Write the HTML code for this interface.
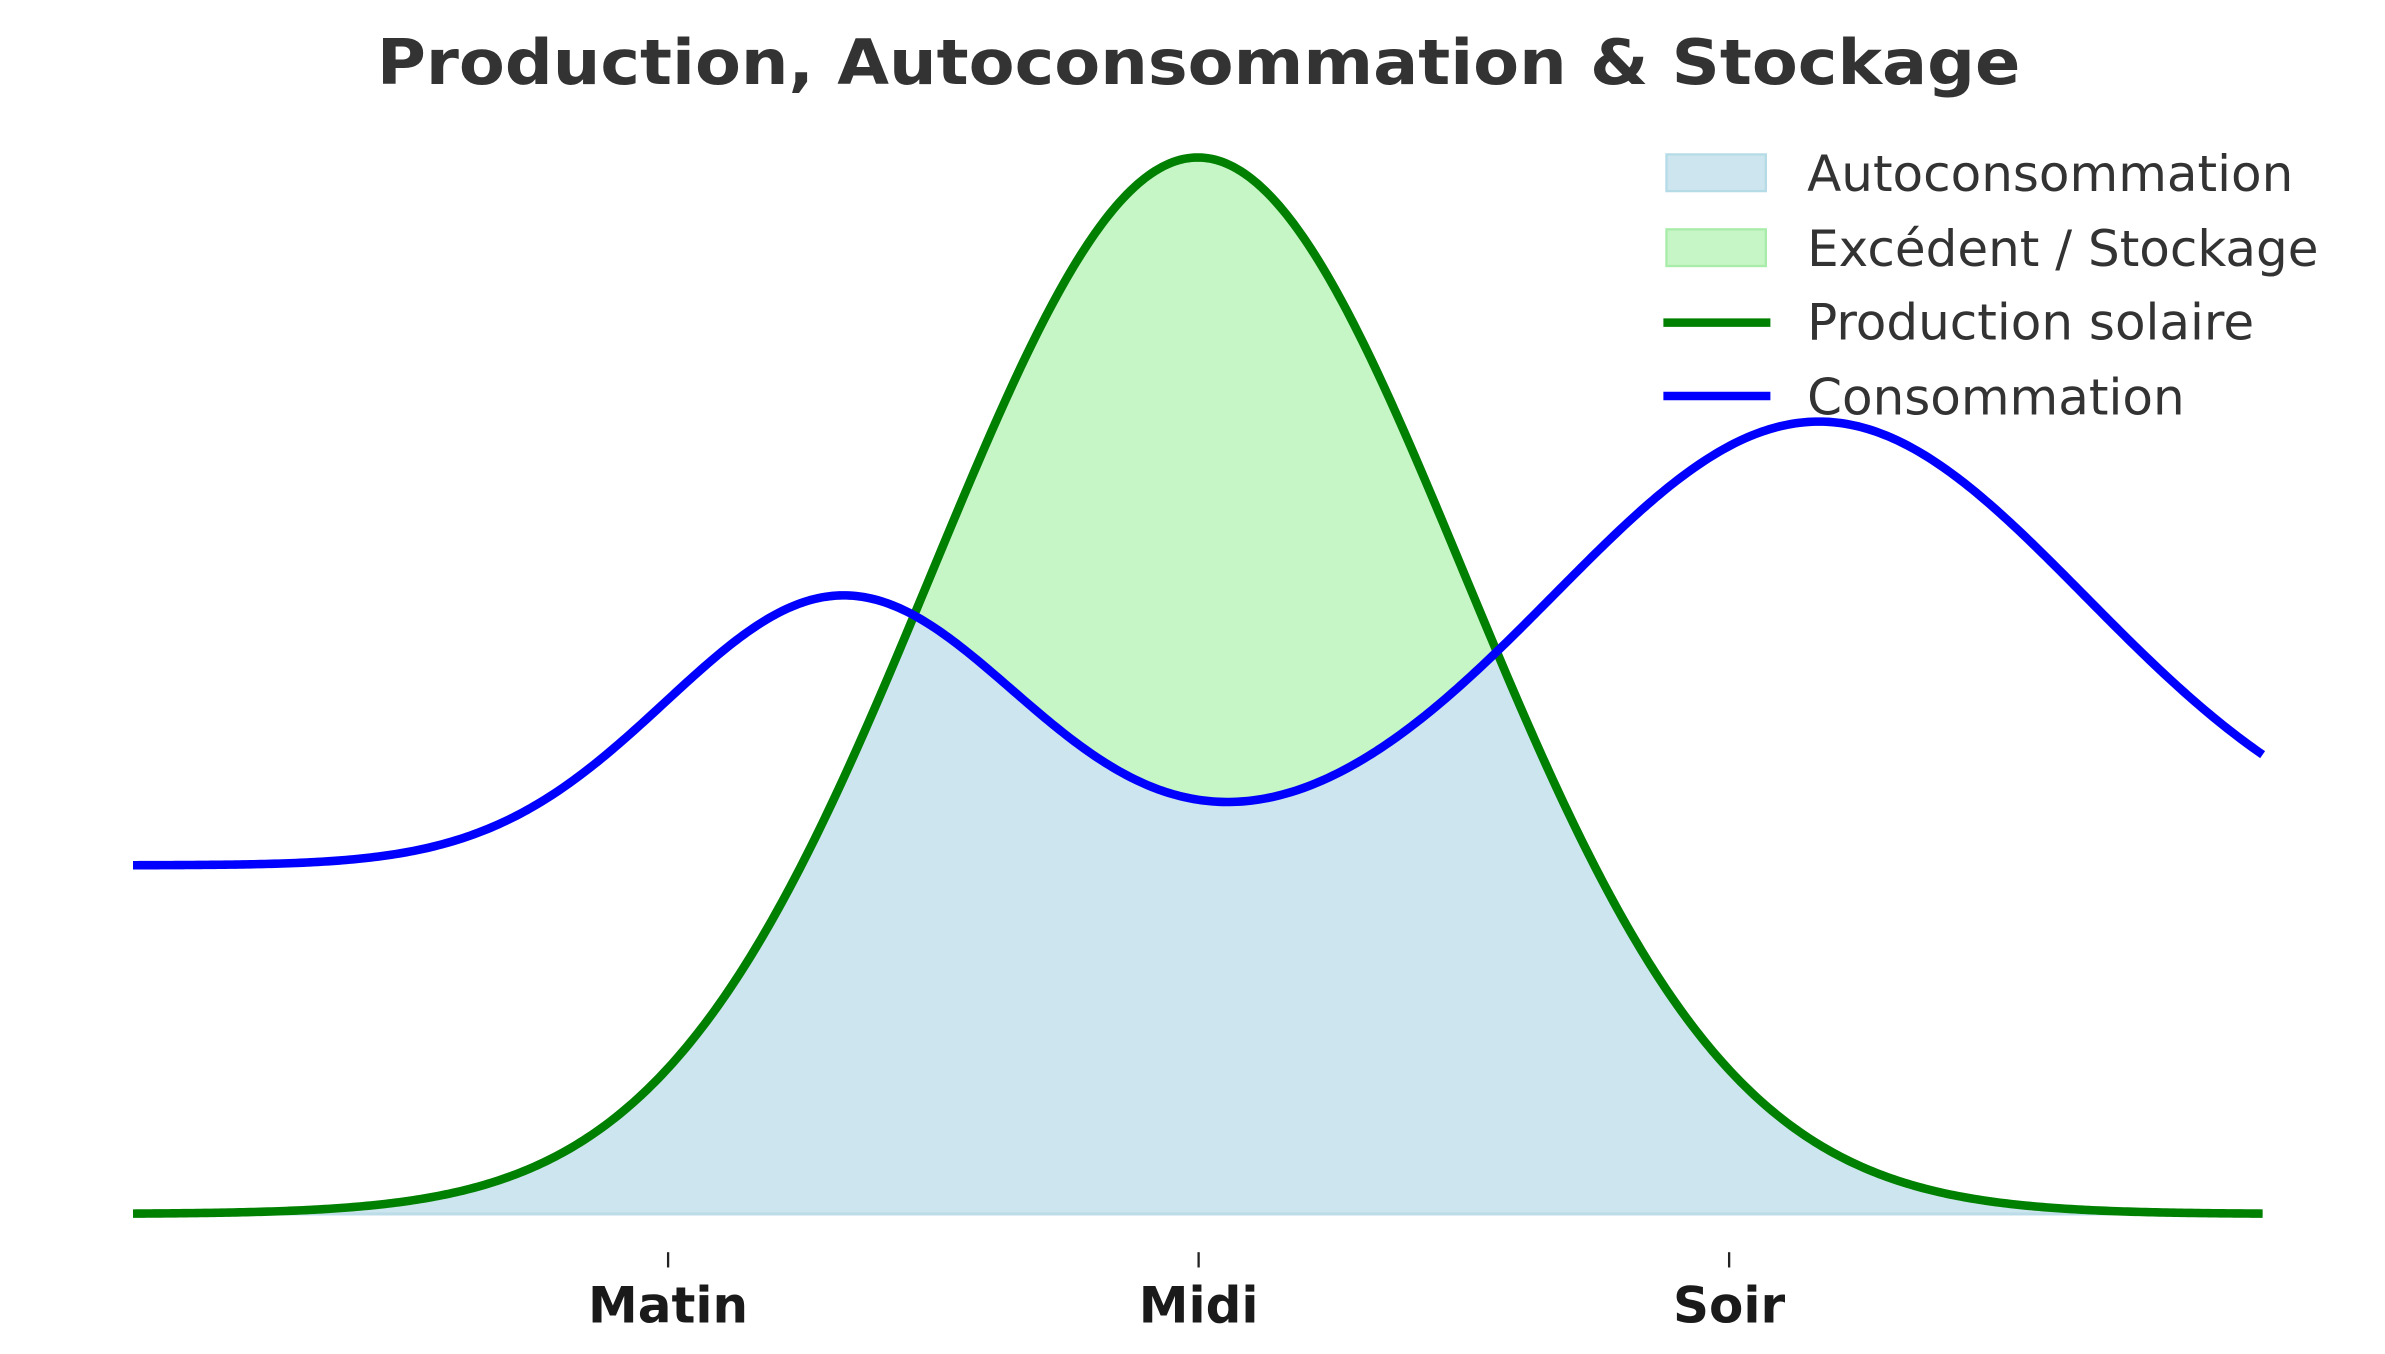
<!DOCTYPE html>
<html><head><meta charset="utf-8">
<style>html,body{margin:0;padding:0;background:#fff;overflow:hidden}svg{display:block}</style>
</head><body>
<svg id="s" width="2385" height="1354" viewBox="0 0 1560 885.6" preserveAspectRatio="none" xmlns="http://www.w3.org/2000/svg">
<path id="blue" fill="#cde5ee" stroke="none"/>
<path id="green" fill="#c6f6c6" stroke="none"/>
<line x1="87" y1="794" x2="1480" y2="794" stroke="#bcdde8" stroke-width="2"/>
<path id="prod" fill="none" stroke="#008000" stroke-width="5.6"/>
<path id="cons" fill="none" stroke="#0000ff" stroke-width="5.6"/>
<g stroke="#222" stroke-width="1.5">
<line x1="437" y1="819" x2="437" y2="829"/><line x1="784" y1="819" x2="784" y2="829"/><line x1="1131" y1="819" x2="1131" y2="829"/>
</g>
<g font-family="DejaVu Sans, Liberation Sans, sans-serif" font-weight="bold" font-size="32.7" fill="#1a1a1a" text-anchor="middle">
<text x="437" y="865">Matin</text><text x="784" y="865">Midi</text><text x="1131" y="865">Soir</text>
</g>
<text x="784" y="55" text-anchor="middle" font-family="DejaVu Sans, Liberation Sans, sans-serif" font-weight="bold" font-size="41" fill="#333" textLength="1075" lengthAdjust="spacingAndGlyphs">Production, Autoconsommation &amp; Stockage</text>
<rect x="1090" y="101" width="65" height="24" fill="#cde5ee" stroke="#b5dbe6" stroke-width="1.5"/>
<rect x="1090" y="150" width="65" height="24" fill="#c6f6c6" stroke="#a8ecaa" stroke-width="1.5"/>
<line x1="1088" y1="211" x2="1158" y2="211" stroke="#008000" stroke-width="5.6"/>
<line x1="1088" y1="259" x2="1158" y2="259" stroke="#0000ff" stroke-width="5.6"/>
<g font-family="DejaVu Sans, Liberation Sans, sans-serif" font-size="32.7" fill="#333">
<text x="1182" y="125">Autoconsommation</text>
<text x="1182" y="174">Excédent / Stockage</text>
<text x="1182" y="222">Production solaire</text>
<text x="1182" y="271">Consommation</text>
</g>
</svg>
<script>
(function(){
var N=600,px=function(x){return 87+x*58.04},py=function(v){return 794-v*691};
function P(x){return Math.exp(-(x-12)*(x-12)/18)}
function C(x){return 0.33+0.255*Math.exp(-(x-8)*(x-8)/8)+0.42*Math.exp(-(x-19)*(x-19)/18)}
var p="",c="",b="",gTop=[],gBot=[];
for(var i=0;i<=N;i++){var x=24*i/N,X=px(x).toFixed(2);
p+=(i?"L":"M")+X+","+py(P(x)).toFixed(2);
c+=(i?"L":"M")+X+","+py(C(x)).toFixed(2);
b+=(i?"L":"M")+X+","+py(Math.min(P(x),C(x))).toFixed(2);
if(P(x)>C(x)){gTop.push(X+","+py(P(x)).toFixed(2));gBot.unshift(X+","+py(C(x)).toFixed(2));}}
b+="L"+px(24)+",794L"+px(0)+",794Z";
document.getElementById("prod").setAttribute("d",p);
document.getElementById("cons").setAttribute("d",c);
document.getElementById("blue").setAttribute("d",b);
if(gTop.length)document.getElementById("green").setAttribute("d","M"+gTop.join("L")+"L"+gBot.join("L")+"Z");
})();
</script>
</body></html>
